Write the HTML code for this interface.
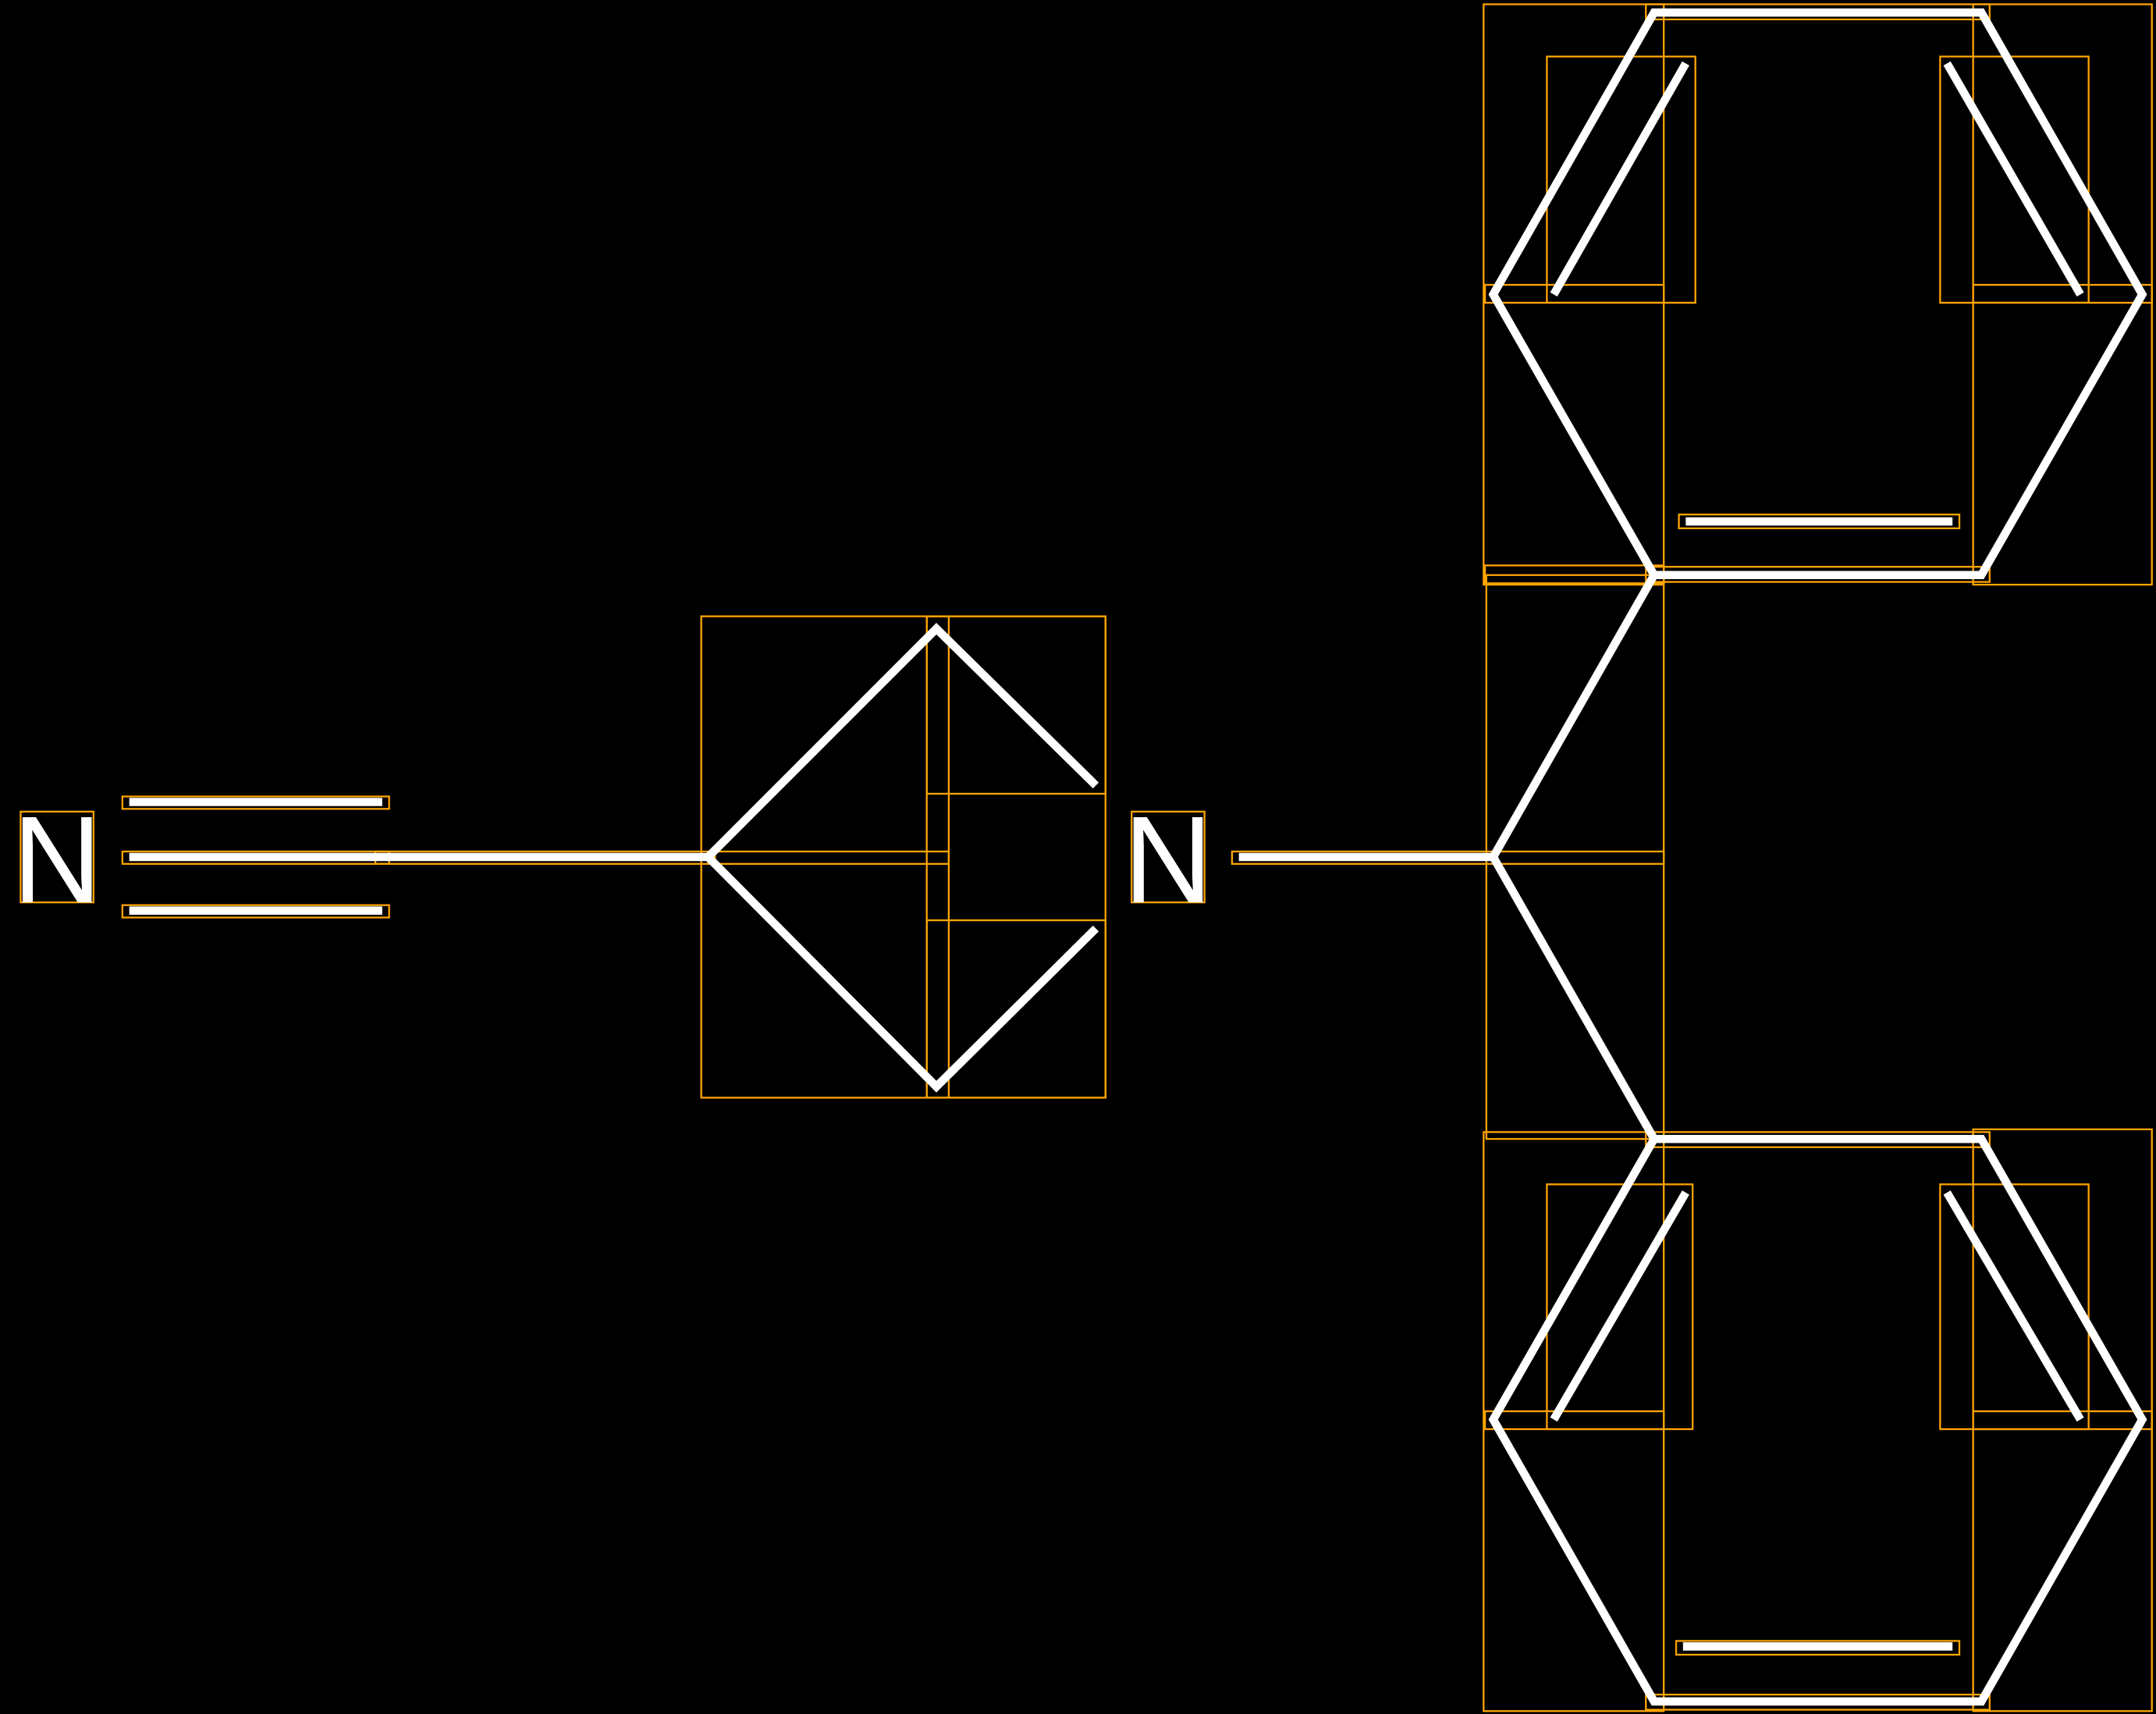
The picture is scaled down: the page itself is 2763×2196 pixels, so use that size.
<!DOCTYPE html>
<html><head><meta charset="utf-8"><style>
html,body{margin:0;padding:0;background:#000;}
svg{display:block;}
</style></head><body>
<svg width="2763" height="2196" viewBox="0 0 1568 1246" xmlns="http://www.w3.org/2000/svg">
<rect width="1568" height="1246" fill="#000"/>
<g fill="none" stroke="#FFA500" stroke-width="1.3">
<rect x="15" y="590" width="53" height="66"/>
<rect x="823" y="590" width="53" height="66"/>
<rect x="89" y="579" width="194" height="9"/>
<rect x="89" y="619" width="194" height="9"/>
<rect x="89" y="658" width="194" height="9"/>
<rect x="273" y="619" width="247" height="9"/>
<rect x="510" y="448" width="294" height="350"/>
<rect x="674" y="448" width="130" height="129"/>
<rect x="674" y="669" width="130" height="129"/>
<rect x="674" y="448" width="16" height="350"/>
<rect x="515" y="619" width="175" height="9"/>
<rect x="896" y="619" width="314" height="9"/>
<rect x="1081" y="418" width="129" height="410"/>
<rect x="1079" y="3" width="131" height="422"/>
<rect x="1435" y="3" width="130" height="422"/>
<rect x="1197" y="3" width="250" height="11"/>
<rect x="1197" y="412" width="250" height="11"/>
<rect x="1080" y="207" width="130" height="13"/>
<rect x="1435" y="207" width="130" height="13"/>
<rect x="1125" y="41" width="108" height="179"/>
<rect x="1411" y="41" width="108" height="179"/>
<rect x="1221" y="374" width="204" height="10"/>
<rect x="1080" y="411" width="130" height="13"/>
<rect x="1079" y="823" width="131" height="421"/>
<rect x="1435" y="821" width="130" height="423"/>
<rect x="1197" y="823" width="250" height="11"/>
<rect x="1197" y="1232" width="250" height="11"/>
<rect x="1080" y="1026" width="130" height="13"/>
<rect x="1435" y="1026" width="130" height="13"/>
<rect x="1125" y="861" width="106" height="178"/>
<rect x="1411" y="861" width="108" height="178"/>
<rect x="1219" y="1193" width="206" height="10"/>
</g>
<g stroke="#fff" stroke-width="6" fill="none" stroke-linejoin="miter">
<line x1="94" y1="583" x2="278" y2="583"/>
<line x1="94" y1="623" x2="515" y2="623"/>
<line x1="94" y1="662" x2="278" y2="662"/>
<polyline points="515,623 681,457 797,571"/>
<polyline points="515,623 681,790 797,675"/>
<line x1="901" y1="623" x2="1086" y2="623"/>
<polyline points="1203,418 1086,623 1203,828"/>
<polygon points="1203,418 1441,418 1558,214 1441,9 1203,9 1086,214"/>
<line x1="1130" y1="214" x2="1226" y2="46"/>
<line x1="1416" y1="46" x2="1513" y2="214"/>
<line x1="1226" y1="379" x2="1420" y2="379"/>
<polygon points="1203,828 1441,828 1558,1032 1441,1237 1203,1237 1086,1032"/>
<line x1="1130" y1="1032" x2="1226" y2="867"/>
<line x1="1416" y1="867" x2="1513" y2="1032"/>
<line x1="1224" y1="1197" x2="1420" y2="1197"/>
</g>
<g fill="#fff" font-family="Liberation Sans, sans-serif" font-size="90">
<text x="41.5" y="656" text-anchor="middle">N</text>
<text x="849.5" y="656" text-anchor="middle">N</text>
</g>
</svg>
</body></html>
